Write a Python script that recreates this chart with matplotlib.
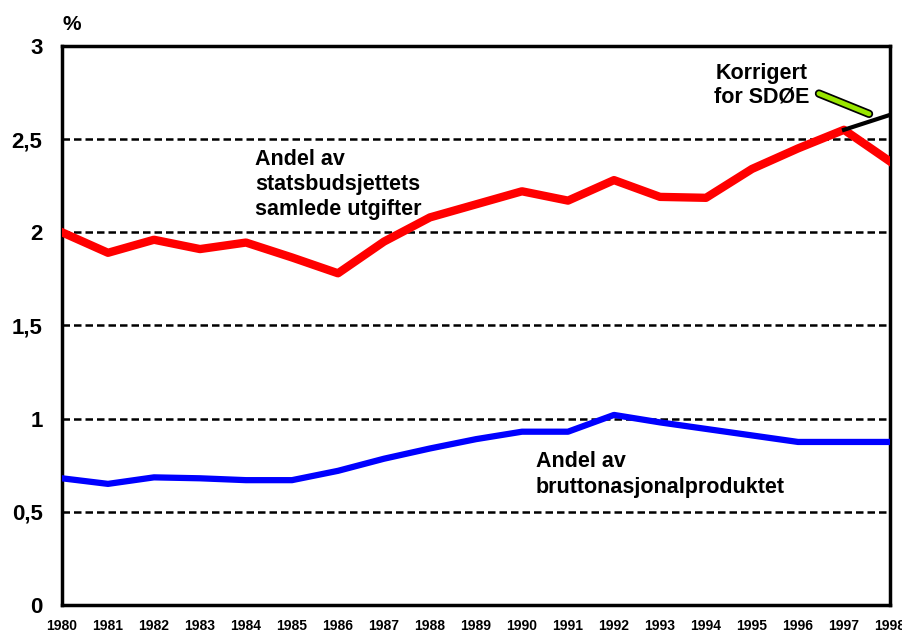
import matplotlib.pyplot as plt
import matplotlib.patheffects as pe

years = list(range(1980, 1999))
statsbudsjett = [2.00, 1.89, 1.96, 1.91, 1.945, 1.865, 1.78, 1.95, 2.08, 2.15, 2.22,
                 2.17, 2.28, 2.19, 2.185, 2.34, 2.45, 2.55, 2.38]
bnp = [0.68, 0.65, 0.685, 0.68, 0.67, 0.67, 0.72, 0.785, 0.84, 0.89, 0.93,
       0.93, 1.02, 0.98, 0.945, 0.91, 0.875, 0.875, 0.875]
korrigert_years = [1997, 1998]
korrigert = [2.55, 2.63]
ytick_vals = [0, 0.5, 1, 1.5, 2, 2.5, 3]
ytick_labels = ["0", "0,5", "1", "1,5", "2", "2,5", "3"]

plt.rcParams['font.family'] = ['Liberation Sans', 'DejaVu Sans']
plt.rcParams['font.weight'] = 'bold'

fig = plt.figure(figsize=(9.02, 6.38), dpi=100)
ax = fig.add_axes([0.0687, 0.0517, 0.918, 0.8763])

for y in ytick_vals[1:-1]:
    ax.axhline(y, color='black', lw=1.8, ls=(0, (3, 1.6)), zorder=1)

ax.plot(years, bnp, color='#0000ff', lw=4.5, zorder=3)
ax.plot(years, statsbudsjett, color='#ff0000', lw=6, zorder=3)
ax.plot(korrigert_years, korrigert, color='black', lw=3, zorder=4)

ax.set_xlim(1980, 1998)
ax.set_ylim(0, 3)
ax.set_xticks(years)
ax.set_xticklabels([str(y) for y in years], fontsize=10, fontweight='bold')
ax.set_yticks(ytick_vals)
ax.set_yticklabels(ytick_labels, fontsize=16, fontweight='bold')
ax.tick_params(length=0)
ax.tick_params(axis='y', pad=14)
ax.tick_params(axis='x', pad=10)
for s in ax.spines.values():
    s.set_linewidth(2.5)
    s.set_color('black')

fig.text(0.069, 0.962, "%", fontsize=15, fontweight='bold', ha='left', va='center')

ax.text(1984.2, 2.255, "Andel av\nstatsbudsjettets\nsamlede utgifter",
        fontsize=15.5, fontweight='bold', ha='left', va='center', linespacing=1.25)
ax.text(1990.3, 0.70, "Andel av\nbruttonasjonalproduktet",
        fontsize=15.5, fontweight='bold', ha='left', va='center', linespacing=1.3)
ax.text(1995.2, 2.79, "Korrigert\nfor SDØE",
        fontsize=15.5, fontweight='bold', ha='center', va='center', linespacing=1.15)

ax.annotate("", xy=(1997.6, 2.63), xytext=(1996.4, 2.75),
            arrowprops=dict(arrowstyle='-', color='#99e600', lw=3.5,
                            path_effects=[pe.Stroke(linewidth=6, foreground='black'), pe.Normal()]),
            zorder=5)

fig.savefig("out.png", dpi=100)
